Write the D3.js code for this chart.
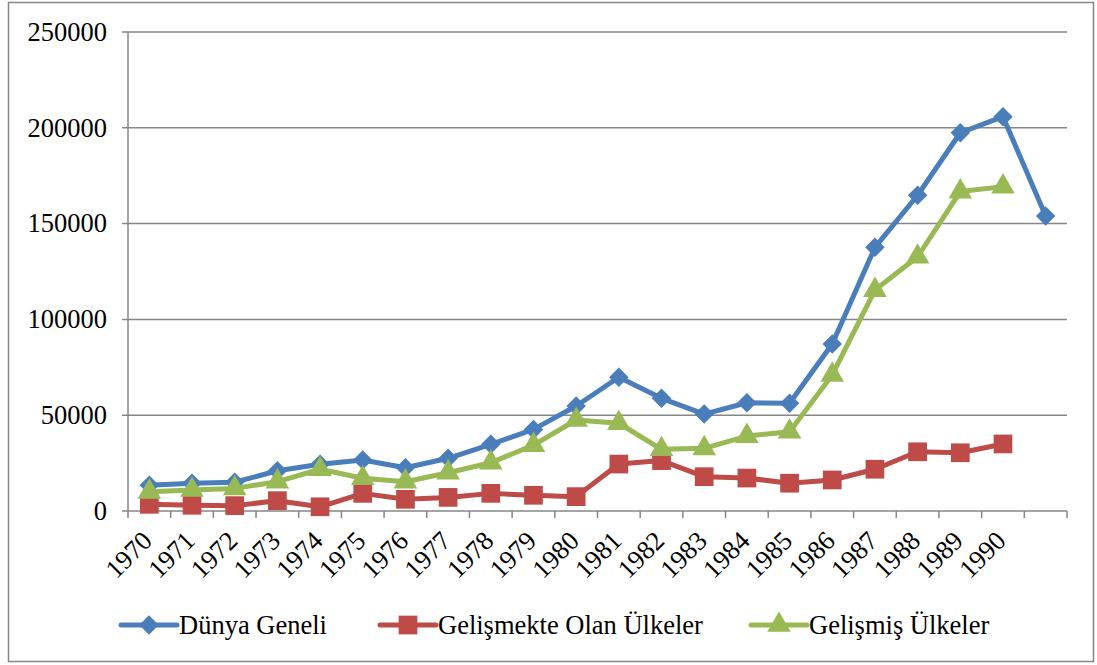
<!DOCTYPE html>
<html>
<head>
<meta charset="utf-8">
<script src="https://cdn.jsdelivr.net/npm/d3@7"></script>
<style>
  body { margin: 0; background: #fff; }
  svg text { font-family: "Liberation Serif", "Times New Roman", serif; fill: #000; }
</style>
</head>
<body>
<svg class="chart" width="1097" height="665"></svg>
<script>
// categories (22 slots, last one has no label)
var years = ["1970","1971","1972","1973","1974","1975","1976","1977","1978","1979","1980",
  "1981","1982","1983","1984","1985","1986","1987","1988","1989","1990",""];

var dunya = [13500, 14500, 15000, 21000, 24400, 26600, 22600, 27500, 34800, 42600, 54800,
  69800, 58800, 50600, 56500, 56200, 87200, 137600, 164800, 197400, 205800, 154000];
var gelismekte = [3500, 3000, 2800, 5400, 2200, 9200, 6100, 7100, 9200, 8200, 7500,
  24500, 26300, 17900, 17200, 14500, 16200, 21800, 30900, 30400, 35000];
var gelismis = [10000, 11000, 11800, 15300, 21800, 17100, 15300, 20000, 25200, 34400, 47500,
  45800, 32200, 32700, 39100, 41400, 71000, 115300, 132700, 166700, 169300];

var yTicks = [0, 50000, 100000, 150000, 200000, 250000];

// diamond = square turned 45 degrees, like the office chart marker
var series = [
  { name: "Dünya Geneli", values: dunya, color: "#4a7ebb", symbol: d3.symbolSquare, size: 190, rot: 45, lx: 121 },
  { name: "Gelişmekte Olan Ülkeler", values: gelismekte, color: "#be4b48", symbol: d3.symbolSquare, size: 350, rot: 0, lx: 380 },
  { name: "Gelişmiş Ülkeler", values: gelismis, color: "#98b954", symbol: d3.symbolTriangle, size: 240, rot: 0, lx: 751 }
];

var svg = d3.select(".chart");
var plotLeft = 128, plotRight = 1067, plotTop = 32, plotBottom = 511;
var fontFam = "'Liberation Serif', 'Times New Roman', serif";
var fs = 26.5;

// frame
svg.append("rect")
  .attr("x", 8.5).attr("y", 2.5).attr("width", 1085).attr("height", 659)
  .attr("fill", "none").attr("stroke", "#868686").attr("stroke-width", 1.5);

var x = d3.scaleBand().domain(d3.range(years.length)).range([plotLeft, plotRight]);
var y = d3.scaleLinear().domain([0, 250000]).range([plotBottom, plotTop]);

// gridlines
svg.append("g").selectAll("line")
  .data(yTicks)
  .enter().append("line")
    .attr("x1", plotLeft - 6).attr("x2", plotRight)
    .attr("y1", function(d) { return y(d); })
    .attr("y2", function(d) { return y(d); })
    .attr("stroke", "#868686").attr("stroke-width", 1.5);

// y axis labels
svg.append("g").selectAll("text")
  .data(yTicks)
  .enter().append("text")
    .attr("x", 107)
    .attr("y", function(d) { return y(d); })
    .attr("dy", "0.33em")
    .attr("text-anchor", "end")
    .attr("font-family", fontFam)
    .attr("font-size", fs)
    .text(function(d) { return d; });

// y axis line
svg.append("line")
  .attr("x1", plotLeft).attr("x2", plotLeft).attr("y1", plotTop).attr("y2", plotBottom)
  .attr("stroke", "#868686").attr("stroke-width", 1.5);

// x ticks at category boundaries
var bounds = d3.range(years.length + 1).map(function(i) { return plotLeft + i * x.step(); });
svg.append("g").selectAll("line")
  .data(bounds)
  .enter().append("line")
    .attr("x1", function(d) { return d; }).attr("x2", function(d) { return d; })
    .attr("y1", plotBottom).attr("y2", plotBottom + 7)
    .attr("stroke", "#868686").attr("stroke-width", 1.5);

// x labels
svg.append("g").selectAll("text")
  .data(years)
  .enter().append("text")
    .attr("transform", function(d, i) {
      return "translate(" + (x(i) + x.bandwidth() / 2 - 8) + "," + (plotBottom + 19) + ") rotate(-45)";
    })
    .attr("dy", "0.66em")
    .attr("text-anchor", "end")
    .attr("font-family", fontFam)
    .attr("font-size", fs)
    .text(function(d) { return d; });

var line = d3.line()
  .x(function(d, i) { return x(i) + x.bandwidth() / 2; })
  .y(function(d) { return y(d); });

series.forEach(function(s) {
  var g = svg.append("g");
  g.append("path")
    .attr("d", line(s.values))
    .attr("fill", "none")
    .attr("stroke", s.color)
    .attr("stroke-width", 5)
    .attr("stroke-linejoin", "round");
  g.selectAll("path.m")
    .data(s.values)
    .enter().append("path")
      .attr("class", "m")
      .attr("transform", function(d, i) {
        return "translate(" + (x(i) + x.bandwidth() / 2) + "," + y(d) + ") rotate(" + s.rot + ")";
      })
      .attr("d", d3.symbol().type(s.symbol).size(s.size))
      .attr("fill", s.color);

  // legend
  var ly = 625;
  var lg = svg.append("g");
  lg.append("line")
    .attr("x1", s.lx).attr("x2", s.lx + 56).attr("y1", ly).attr("y2", ly)
    .attr("stroke", s.color).attr("stroke-width", 5).attr("stroke-linecap", "round");
  lg.append("path")
    .attr("transform", "translate(" + (s.lx + 28) + "," + ly + ") rotate(" + s.rot + ")")
    .attr("d", d3.symbol().type(s.symbol).size(s.size))
    .attr("fill", s.color);
  lg.append("text")
    .attr("x", s.lx + 58).attr("y", ly)
    .attr("dy", "0.33em")
    .attr("font-family", fontFam)
    .attr("font-size", fs)
    .text(s.name);
});
</script>
</body>
</html>
